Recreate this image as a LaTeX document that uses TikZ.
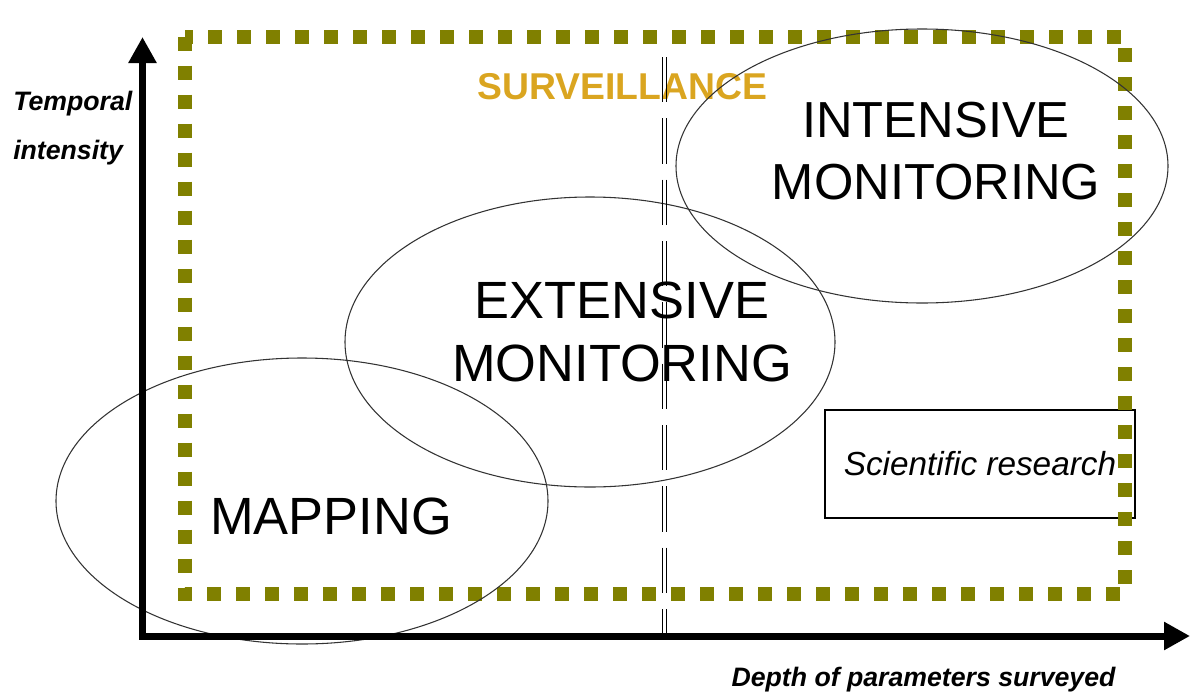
\documentclass[tikz,border=0pt]{standalone}
\usepackage{fontspec}
\setmainfont{Liberation Sans}
\usetikzlibrary{arrows.meta, positioning, shapes.geometric}
\definecolor{frameolive}{RGB}{128,128,0}
\definecolor{survgold}{RGB}{218,165,32}
\tikzset{
  axis/.style={line width=5.25pt, line join=miter,
    {Triangle[length=19.5pt,width=20pt]}-{Triangle[length=19.5pt,width=20pt]}},
  zone/.style={draw=black!80, line width=0.8pt},
  bigtext/.style={font=\fontsize{39.3}{47}\selectfont, align=center, inner sep=0pt},
  axlabel/.style={font=\fontsize{20}{37}\selectfont\bfseries\itshape, align=left, inner sep=0pt}
}

\begin{document}
\begin{tikzpicture}[x=0.75pt,y=-0.75pt]
\useasboundingbox (0,0) rectangle (1190,693);
\coordinate (ytip) at (142.5,37);
\coordinate (origin) at (142.5,636);
\coordinate (xtip) at (1190,636);
\node[draw, line width=1.1pt, minimum width=232.5pt, minimum height=81pt,
  font=\fontsize{25}{30}\selectfont\itshape] (research) at (980,464) {Scientific research};
\draw[frameolive, line width=10.5pt, dash pattern=on 10.5pt off 11.25pt]
  (184.5,36.5) rectangle (1124.5,594);
\node[font=\fontsize{28}{34}\selectfont\bfseries, text=survgold, inner sep=0pt] (surv) at (622.5,87) {SURVEILLANCE};
\node[bigtext, font=\fontsize{38}{46.5}\selectfont] (intensive) at (936,151) {INTENSIVE\\MONITORING};
\node[bigtext] (extensive) at (622,332) {EXTENSIVE\\MONITORING};
\node[bigtext] (mapping) at (331,516) {MAPPING};
\draw[zone] (302,501) ellipse [x radius=246, y radius=143];
\draw[zone] (590,342) ellipse [x radius=245, y radius=145];
\draw[zone] (922,166) ellipse [x radius=246, y radius=137];
\foreach \dx in {662.7,666.3}
  \draw[line width=1.1pt, dash pattern=on 34pt off 12pt] (\dx,57) -- (\dx,640);
\draw[axis] (ytip) -- (origin) -- (xtip);
\node[axlabel, anchor=west] (temporal) at (13,128) {Temporal\\intensity};
\node[axlabel] (depth) at (923.5,680) {Depth of parameters surveyed};
\end{tikzpicture}
\end{document}
